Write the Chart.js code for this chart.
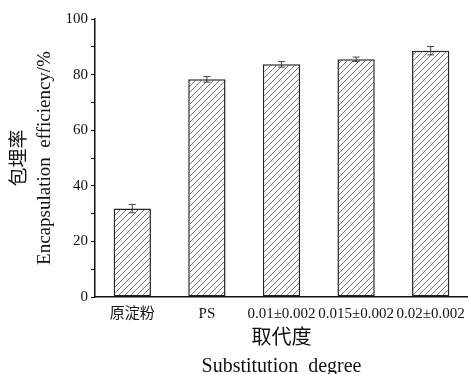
<!DOCTYPE html>
<html>
<head>
<meta charset="utf-8">
<script src="https://cdn.jsdelivr.net/npm/chart.js@4"></script>
<style>
  html, body { margin: 0; padding: 0; background: #fff; }
  #wrap { width: 468px; height: 374px; }
</style>
</head>
<body>
<div id="wrap"><canvas id="chart"></canvas></div>
<script>
// dados
const categories = ["原淀粉", "PS", "0.01±0.002", "0.015±0.002", "0.02±0.002"];
const efficiency = [31.8, 78.3, 83.7, 85.5, 88.6];
const errors = [1.5, 1.0, 1.0, 0.8, 1.5];

const serif = "'Liberation Serif', 'Noto Sans CJK SC', serif";

// padrão hachurado das barras
function hatchPattern() {
    const c = document.createElement("canvas");
    c.width = 6;
    c.height = 6;
    const g = c.getContext("2d");
    g.fillStyle = "#fff";
    g.fillRect(0, 0, 6, 6);
    g.strokeStyle = "#666";
    g.lineWidth = 0.9;
    g.beginPath();
    g.moveTo(0, 6);
    g.lineTo(6, 0);
    g.moveTo(-1, 1);
    g.lineTo(1, -1);
    g.moveTo(5, 7);
    g.lineTo(7, 5);
    g.stroke();
    return g.createPattern(c, "repeat");
}

// barras de erro desenhadas pelas escalas do gráfico
const errorBars = {
    id: "errorBars",
    afterDatasetsDraw(chart) {
        const ctx = chart.ctx;
        const y = chart.scales.y;
        const meta = chart.getDatasetMeta(0);
        ctx.save();
        ctx.strokeStyle = "#444";
        ctx.lineWidth = 1;
        meta.data.forEach((bar, i) => {
            const top = y.getPixelForValue(efficiency[i] + errors[i]);
            const bot = y.getPixelForValue(efficiency[i] - errors[i]);
            ctx.beginPath();
            ctx.moveTo(bar.x, top);
            ctx.lineTo(bar.x, bot);
            ctx.moveTo(bar.x - 3.5, top);
            ctx.lineTo(bar.x + 3.5, top);
            ctx.moveTo(bar.x - 3.5, bot);
            ctx.lineTo(bar.x + 3.5, bot);
            ctx.stroke();
        });
        ctx.restore();
    },
};

new Chart(document.getElementById("chart"), {
    type: "bar",
    data: {
        labels: categories,
        datasets: [{
            data: efficiency,
            backgroundColor: hatchPattern(),
            borderColor: "#222",
            borderWidth: 1.5,
            borderSkipped: false,
            categoryPercentage: 1,
            barPercentage: 0.5,
        }],
    },
    options: {
        responsive: true,
        maintainAspectRatio: false,
        animation: false,
        layout: { padding: { top: 19, right: 0, bottom: 0, left: 0 } },
        plugins: {
            legend: { display: false },
            tooltip: { enabled: false },
        },
        scales: {
            x: {
                offset: true,
                grid: { display: false, drawTicks: false },
                border: { color: "#111", width: 1.5 },
                ticks: {
                    color: "#111",
                    padding: 8,
                    maxRotation: 0,
                    autoSkip: false,
                    font: { family: serif, size: 15 },
                },
                title: {
                    display: true,
                    text: ["取代度", "Substitution  degree"],
                    color: "#111",
                    font: { family: serif, size: 20, lineHeight: 1.4 },
                    padding: { top: 0, bottom: -7 },
                },
                afterFit: (s) => {
                    s.height = 77;
                    s.paddingLeft = 0;
                    s.paddingRight = 0;
                },
            },
            y: {
                min: 0,
                max: 100,
                grid: {
                    drawOnChartArea: false,
                    drawTicks: true,
                    tickLength: 4,
                    color: "#111",
                },
                border: { color: "#111", width: 1.5 },
                ticks: {
                    stepSize: 10,
                    color: "#111",
                    padding: 3,
                    font: { family: serif, size: 15 },
                    callback: (v) => (v % 20 === 0 ? v : ""),
                },
                title: {
                    display: true,
                    text: ["包埋率", "Encapsulation  efficiency/%"],
                    color: "#111",
                    font: { family: serif, size: 19, lineHeight: 1.32 },
                    padding: { top: 7.5, bottom: 0 },
                },
                afterFit: (s) => { s.width = 95; },
            },
        },
    },
    plugins: [errorBars],
});
</script>
</body>
</html>
